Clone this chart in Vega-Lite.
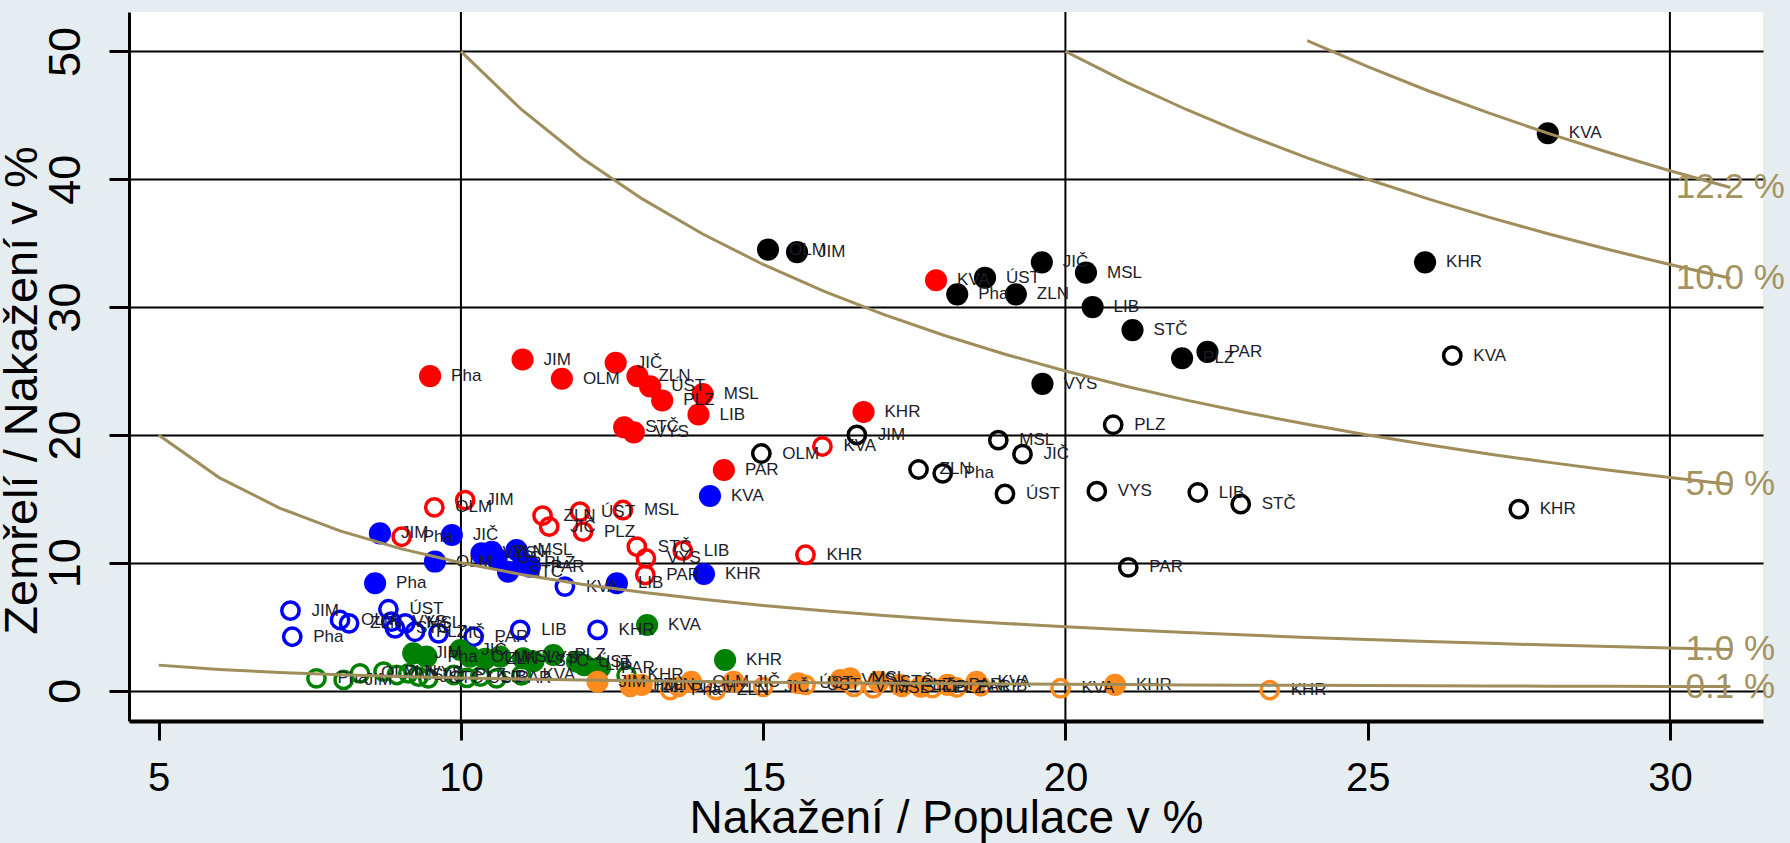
{
  "$schema": "https://vega.github.io/schema/vega-lite/v6.json",
  "width": 1634,
  "height": 709,
  "autosize": {"type": "none"},
  "padding": {"left": 129, "top": 12, "right": 27, "bottom": 122},
  "background": "#e6edf0",
  "config": {"view": {"fill": "white", "stroke": null}, "font": "Liberation Sans"},
  "datasets": {
    "pts": [
      {"g": "black", "f": "filled", "r": "OLM", "x": 15.08, "y": 34.5},
      {"g": "black", "f": "filled", "r": "JIM", "x": 15.56, "y": 34.3},
      {"g": "black", "f": "filled", "r": "Pha", "x": 18.21, "y": 31.0},
      {"g": "black", "f": "filled", "r": "ÚST", "x": 18.67, "y": 32.3},
      {"g": "black", "f": "filled", "r": "JIČ", "x": 19.61, "y": 33.5},
      {"g": "black", "f": "filled", "r": "ZLN", "x": 19.18, "y": 31.0},
      {"g": "black", "f": "filled", "r": "MSL", "x": 20.34, "y": 32.7},
      {"g": "black", "f": "filled", "r": "LIB", "x": 20.45, "y": 30.0},
      {"g": "black", "f": "filled", "r": "STČ", "x": 21.11, "y": 28.2},
      {"g": "black", "f": "filled", "r": "PLZ", "x": 21.93, "y": 26.0},
      {"g": "black", "f": "filled", "r": "PAR", "x": 22.35, "y": 26.5},
      {"g": "black", "f": "filled", "r": "VYS", "x": 19.62, "y": 24.0},
      {"g": "black", "f": "filled", "r": "KHR", "x": 25.95, "y": 33.5},
      {"g": "black", "f": "filled", "r": "KVA", "x": 27.98, "y": 43.6},
      {"g": "black", "f": "hollow", "r": "OLM", "x": 14.97, "y": 18.55},
      {"g": "black", "f": "hollow", "r": "JIM", "x": 16.55, "y": 20.0},
      {"g": "black", "f": "hollow", "r": "ZLN", "x": 17.57, "y": 17.3},
      {"g": "black", "f": "hollow", "r": "Pha", "x": 17.97, "y": 17.0},
      {"g": "black", "f": "hollow", "r": "MSL", "x": 18.89, "y": 19.6},
      {"g": "black", "f": "hollow", "r": "JIČ", "x": 19.29, "y": 18.5},
      {"g": "black", "f": "hollow", "r": "ÚST", "x": 19.0, "y": 15.4},
      {"g": "black", "f": "hollow", "r": "VYS", "x": 20.52, "y": 15.6},
      {"g": "black", "f": "hollow", "r": "PLZ", "x": 20.79, "y": 20.8},
      {"g": "black", "f": "hollow", "r": "LIB", "x": 22.19, "y": 15.5},
      {"g": "black", "f": "hollow", "r": "STČ", "x": 22.9, "y": 14.6},
      {"g": "black", "f": "hollow", "r": "PAR", "x": 21.04, "y": 9.64},
      {"g": "black", "f": "hollow", "r": "KVA", "x": 26.4, "y": 26.2},
      {"g": "black", "f": "hollow", "r": "KHR", "x": 27.5, "y": 14.2},
      {"g": "red", "f": "filled", "r": "Pha", "x": 9.49, "y": 24.6},
      {"g": "red", "f": "filled", "r": "JIM", "x": 11.02, "y": 25.9},
      {"g": "red", "f": "filled", "r": "OLM", "x": 11.67, "y": 24.4},
      {"g": "red", "f": "filled", "r": "JIČ", "x": 12.56, "y": 25.65},
      {"g": "red", "f": "filled", "r": "ZLN", "x": 12.92, "y": 24.6},
      {"g": "red", "f": "filled", "r": "ÚST", "x": 13.13, "y": 23.8},
      {"g": "red", "f": "filled", "r": "PLZ", "x": 13.33, "y": 22.7},
      {"g": "red", "f": "filled", "r": "MSL", "x": 14.0, "y": 23.2},
      {"g": "red", "f": "filled", "r": "LIB", "x": 13.93, "y": 21.6},
      {"g": "red", "f": "filled", "r": "STČ", "x": 12.7, "y": 20.6},
      {"g": "red", "f": "filled", "r": "VYS", "x": 12.86, "y": 20.2},
      {"g": "red", "f": "filled", "r": "KVA", "x": 17.86, "y": 32.1},
      {"g": "red", "f": "filled", "r": "KHR", "x": 16.66, "y": 21.8},
      {"g": "red", "f": "filled", "r": "PAR", "x": 14.35, "y": 17.26},
      {"g": "red", "f": "hollow", "r": "Pha", "x": 9.02, "y": 12.04},
      {"g": "red", "f": "hollow", "r": "OLM", "x": 9.56, "y": 14.34},
      {"g": "red", "f": "hollow", "r": "JIM", "x": 10.07, "y": 14.9},
      {"g": "red", "f": "hollow", "r": "ZLN", "x": 11.35, "y": 13.69},
      {"g": "red", "f": "hollow", "r": "JIČ", "x": 11.46, "y": 12.83},
      {"g": "red", "f": "hollow", "r": "ÚST", "x": 11.97, "y": 14.0},
      {"g": "red", "f": "hollow", "r": "PLZ", "x": 12.02, "y": 12.44},
      {"g": "red", "f": "hollow", "r": "MSL", "x": 12.68, "y": 14.13},
      {"g": "red", "f": "hollow", "r": "STČ", "x": 12.91, "y": 11.26},
      {"g": "red", "f": "hollow", "r": "VYS", "x": 13.06, "y": 10.35},
      {"g": "red", "f": "hollow", "r": "PAR", "x": 13.05, "y": 9.05},
      {"g": "red", "f": "hollow", "r": "LIB", "x": 13.67, "y": 10.95},
      {"g": "red", "f": "hollow", "r": "KHR", "x": 15.7, "y": 10.63},
      {"g": "red", "f": "hollow", "r": "KVA", "x": 15.98, "y": 19.1},
      {"g": "blue", "f": "filled", "r": "JIM", "x": 8.66, "y": 12.3},
      {"g": "blue", "f": "filled", "r": "JIČ", "x": 9.85, "y": 12.18},
      {"g": "blue", "f": "filled", "r": "OLM", "x": 9.57, "y": 10.1},
      {"g": "blue", "f": "filled", "r": "Pha", "x": 8.58, "y": 8.4},
      {"g": "blue", "f": "filled", "r": "VYS", "x": 10.34, "y": 10.74},
      {"g": "blue", "f": "filled", "r": "ZLN", "x": 10.51, "y": 10.87},
      {"g": "blue", "f": "filled", "r": "ÚST", "x": 10.59, "y": 10.35},
      {"g": "blue", "f": "filled", "r": "MSL", "x": 10.92, "y": 11.0},
      {"g": "blue", "f": "filled", "r": "STČ", "x": 10.78, "y": 9.3},
      {"g": "blue", "f": "filled", "r": "PLZ", "x": 11.03, "y": 9.96},
      {"g": "blue", "f": "filled", "r": "PAR", "x": 11.14, "y": 9.7},
      {"g": "blue", "f": "filled", "r": "KVA", "x": 14.12, "y": 15.23},
      {"g": "blue", "f": "filled", "r": "LIB", "x": 12.58, "y": 8.4},
      {"g": "blue", "f": "filled", "r": "KHR", "x": 14.02, "y": 9.13},
      {"g": "blue", "f": "hollow", "r": "JIM", "x": 7.18, "y": 6.26},
      {"g": "blue", "f": "hollow", "r": "Pha", "x": 7.21, "y": 4.22},
      {"g": "blue", "f": "hollow", "r": "OLM", "x": 8.0, "y": 5.53},
      {"g": "blue", "f": "hollow", "r": "ZLN", "x": 8.15, "y": 5.27},
      {"g": "blue", "f": "hollow", "r": "ÚST", "x": 8.8, "y": 6.37},
      {"g": "blue", "f": "hollow", "r": "VYS", "x": 8.85, "y": 5.4},
      {"g": "blue", "f": "hollow", "r": "STČ", "x": 8.91, "y": 4.88},
      {"g": "blue", "f": "hollow", "r": "MSL", "x": 9.08, "y": 5.27},
      {"g": "blue", "f": "hollow", "r": "PLZ", "x": 9.24, "y": 4.61},
      {"g": "blue", "f": "hollow", "r": "JIČ", "x": 9.63, "y": 4.49},
      {"g": "blue", "f": "hollow", "r": "PAR", "x": 10.21, "y": 4.22},
      {"g": "blue", "f": "hollow", "r": "LIB", "x": 10.98, "y": 4.75},
      {"g": "blue", "f": "hollow", "r": "KHR", "x": 12.26, "y": 4.75},
      {"g": "blue", "f": "hollow", "r": "KVA", "x": 11.72, "y": 8.14},
      {"g": "green", "f": "filled", "r": "JIM", "x": 9.21, "y": 2.92},
      {"g": "green", "f": "filled", "r": "Pha", "x": 9.43, "y": 2.66},
      {"g": "green", "f": "filled", "r": "JIČ", "x": 9.99, "y": 3.18},
      {"g": "green", "f": "filled", "r": "OLM", "x": 10.15, "y": 2.66},
      {"g": "green", "f": "filled", "r": "ZLN", "x": 10.4, "y": 2.5},
      {"g": "green", "f": "filled", "r": "MSL", "x": 10.65, "y": 2.66},
      {"g": "green", "f": "filled", "r": "VYS", "x": 11.03, "y": 2.53},
      {"g": "green", "f": "filled", "r": "STČ", "x": 11.2, "y": 2.3},
      {"g": "green", "f": "filled", "r": "PLZ", "x": 11.53, "y": 2.79},
      {"g": "green", "f": "filled", "r": "ÚST", "x": 11.92, "y": 2.27},
      {"g": "green", "f": "filled", "r": "LIB", "x": 12.04, "y": 2.0},
      {"g": "green", "f": "filled", "r": "PAR", "x": 12.3, "y": 1.8},
      {"g": "green", "f": "filled", "r": "KVA", "x": 13.08, "y": 5.14},
      {"g": "green", "f": "filled", "r": "KHR", "x": 14.37, "y": 2.4},
      {"g": "green", "f": "hollow", "r": "Pha", "x": 7.61, "y": 0.97},
      {"g": "green", "f": "hollow", "r": "JIM", "x": 8.06, "y": 0.84},
      {"g": "green", "f": "hollow", "r": "OLM", "x": 8.33, "y": 1.36},
      {"g": "green", "f": "hollow", "r": "ZLN", "x": 8.72, "y": 1.49},
      {"g": "green", "f": "hollow", "r": "MSL", "x": 8.94, "y": 1.23},
      {"g": "green", "f": "hollow", "r": "VYS", "x": 9.13, "y": 1.36},
      {"g": "green", "f": "hollow", "r": "JIČ", "x": 9.3, "y": 1.1},
      {"g": "green", "f": "hollow", "r": "STČ", "x": 9.46, "y": 0.97},
      {"g": "green", "f": "hollow", "r": "PLZ", "x": 9.88, "y": 1.23},
      {"g": "green", "f": "hollow", "r": "ÚST", "x": 10.1, "y": 1.0},
      {"g": "green", "f": "hollow", "r": "LIB", "x": 10.32, "y": 1.1},
      {"g": "green", "f": "hollow", "r": "PAR", "x": 10.59, "y": 0.97},
      {"g": "green", "f": "hollow", "r": "KVA", "x": 11.0, "y": 1.2},
      {"g": "green", "f": "hollow", "r": "KHR", "x": 12.74, "y": 1.2},
      {"g": "orange", "f": "filled", "r": "JIM", "x": 12.26, "y": 0.7},
      {"g": "orange", "f": "filled", "r": "Pha", "x": 12.83, "y": 0.45},
      {"g": "orange", "f": "filled", "r": "ZLN", "x": 12.99, "y": 0.45},
      {"g": "orange", "f": "filled", "r": "OLM", "x": 13.81, "y": 0.7},
      {"g": "orange", "f": "filled", "r": "JIČ", "x": 14.51, "y": 0.7},
      {"g": "orange", "f": "filled", "r": "ÚST", "x": 15.58, "y": 0.58},
      {"g": "orange", "f": "filled", "r": "VYS", "x": 16.28, "y": 0.84},
      {"g": "orange", "f": "filled", "r": "MSL", "x": 16.44, "y": 0.97},
      {"g": "orange", "f": "filled", "r": "STČ", "x": 16.91, "y": 0.7},
      {"g": "orange", "f": "filled", "r": "PLZ", "x": 17.26, "y": 0.45},
      {"g": "orange", "f": "filled", "r": "LIB", "x": 17.61, "y": 0.32},
      {"g": "orange", "f": "filled", "r": "PAR", "x": 18.05, "y": 0.45},
      {"g": "orange", "f": "filled", "r": "KVA", "x": 18.53, "y": 0.7},
      {"g": "orange", "f": "filled", "r": "KHR", "x": 20.82, "y": 0.45},
      {"g": "orange", "f": "hollow", "r": "JIM", "x": 12.8, "y": 0.3},
      {"g": "orange", "f": "hollow", "r": "Pha", "x": 13.46, "y": 0.05},
      {"g": "orange", "f": "hollow", "r": "OLM", "x": 13.6, "y": 0.3},
      {"g": "orange", "f": "hollow", "r": "ZLN", "x": 14.22, "y": 0.05},
      {"g": "orange", "f": "hollow", "r": "JIČ", "x": 15.0, "y": 0.3},
      {"g": "orange", "f": "hollow", "r": "ÚST", "x": 15.7, "y": 0.45},
      {"g": "orange", "f": "hollow", "r": "VYS", "x": 16.5, "y": 0.3},
      {"g": "orange", "f": "hollow", "r": "MSL", "x": 16.82, "y": 0.19},
      {"g": "orange", "f": "hollow", "r": "STČ", "x": 17.3, "y": 0.3},
      {"g": "orange", "f": "hollow", "r": "PLZ", "x": 17.8, "y": 0.2},
      {"g": "orange", "f": "hollow", "r": "PAR", "x": 18.2, "y": 0.25},
      {"g": "orange", "f": "hollow", "r": "LIB", "x": 18.6, "y": 0.35},
      {"g": "orange", "f": "hollow", "r": "KVA", "x": 19.92, "y": 0.19},
      {"g": "orange", "f": "hollow", "r": "KHR", "x": 23.38, "y": 0.05}
    ],
    "curves": [
      {"c": "0.1 %", "x": 5, "y": 2}, {"c": "0.1 %", "x": 6, "y": 1.667}, {"c": "0.1 %", "x": 7, "y": 1.429}, {"c": "0.1 %", "x": 8, "y": 1.25}, {"c": "0.1 %", "x": 9, "y": 1.111}, {"c": "0.1 %", "x": 10, "y": 1}, {"c": "0.1 %", "x": 11, "y": 0.909}, {"c": "0.1 %", "x": 12, "y": 0.833}, {"c": "0.1 %", "x": 13, "y": 0.769}, {"c": "0.1 %", "x": 14, "y": 0.714}, {"c": "0.1 %", "x": 15, "y": 0.667}, {"c": "0.1 %", "x": 16, "y": 0.625}, {"c": "0.1 %", "x": 17, "y": 0.588}, {"c": "0.1 %", "x": 18, "y": 0.556}, {"c": "0.1 %", "x": 19, "y": 0.526}, {"c": "0.1 %", "x": 20, "y": 0.5}, {"c": "0.1 %", "x": 21, "y": 0.476}, {"c": "0.1 %", "x": 22, "y": 0.455}, {"c": "0.1 %", "x": 23, "y": 0.435}, {"c": "0.1 %", "x": 24, "y": 0.417}, {"c": "0.1 %", "x": 25, "y": 0.4}, {"c": "0.1 %", "x": 26, "y": 0.385}, {"c": "0.1 %", "x": 27, "y": 0.37}, {"c": "0.1 %", "x": 28, "y": 0.357}, {"c": "0.1 %", "x": 29, "y": 0.345}, {"c": "0.1 %", "x": 30, "y": 0.333}, {"c": "0.1 %", "x": 31, "y": 0.323},
      {"c": "1.0 %", "x": 5, "y": 20}, {"c": "1.0 %", "x": 6, "y": 16.667}, {"c": "1.0 %", "x": 7, "y": 14.286}, {"c": "1.0 %", "x": 8, "y": 12.5}, {"c": "1.0 %", "x": 9, "y": 11.111}, {"c": "1.0 %", "x": 10, "y": 10}, {"c": "1.0 %", "x": 11, "y": 9.091}, {"c": "1.0 %", "x": 12, "y": 8.333}, {"c": "1.0 %", "x": 13, "y": 7.692}, {"c": "1.0 %", "x": 14, "y": 7.143}, {"c": "1.0 %", "x": 15, "y": 6.667}, {"c": "1.0 %", "x": 16, "y": 6.25}, {"c": "1.0 %", "x": 17, "y": 5.882}, {"c": "1.0 %", "x": 18, "y": 5.556}, {"c": "1.0 %", "x": 19, "y": 5.263}, {"c": "1.0 %", "x": 20, "y": 5}, {"c": "1.0 %", "x": 21, "y": 4.762}, {"c": "1.0 %", "x": 22, "y": 4.545}, {"c": "1.0 %", "x": 23, "y": 4.348}, {"c": "1.0 %", "x": 24, "y": 4.167}, {"c": "1.0 %", "x": 25, "y": 4}, {"c": "1.0 %", "x": 26, "y": 3.846}, {"c": "1.0 %", "x": 27, "y": 3.704}, {"c": "1.0 %", "x": 28, "y": 3.571}, {"c": "1.0 %", "x": 29, "y": 3.448}, {"c": "1.0 %", "x": 30, "y": 3.333}, {"c": "1.0 %", "x": 31, "y": 3.226},
      {"c": "5.0 %", "x": 10, "y": 50}, {"c": "5.0 %", "x": 11, "y": 45.455}, {"c": "5.0 %", "x": 12, "y": 41.667}, {"c": "5.0 %", "x": 13, "y": 38.462}, {"c": "5.0 %", "x": 14, "y": 35.714}, {"c": "5.0 %", "x": 15, "y": 33.333}, {"c": "5.0 %", "x": 16, "y": 31.25}, {"c": "5.0 %", "x": 17, "y": 29.412}, {"c": "5.0 %", "x": 18, "y": 27.778}, {"c": "5.0 %", "x": 19, "y": 26.316}, {"c": "5.0 %", "x": 20, "y": 25}, {"c": "5.0 %", "x": 21, "y": 23.81}, {"c": "5.0 %", "x": 22, "y": 22.727}, {"c": "5.0 %", "x": 23, "y": 21.739}, {"c": "5.0 %", "x": 24, "y": 20.833}, {"c": "5.0 %", "x": 25, "y": 20}, {"c": "5.0 %", "x": 26, "y": 19.231}, {"c": "5.0 %", "x": 27, "y": 18.519}, {"c": "5.0 %", "x": 28, "y": 17.857}, {"c": "5.0 %", "x": 29, "y": 17.241}, {"c": "5.0 %", "x": 30, "y": 16.667}, {"c": "5.0 %", "x": 31, "y": 16.129},
      {"c": "10.0 %", "x": 20, "y": 50}, {"c": "10.0 %", "x": 21, "y": 47.619}, {"c": "10.0 %", "x": 22, "y": 45.455}, {"c": "10.0 %", "x": 23, "y": 43.478}, {"c": "10.0 %", "x": 24, "y": 41.667}, {"c": "10.0 %", "x": 25, "y": 40}, {"c": "10.0 %", "x": 26, "y": 38.462}, {"c": "10.0 %", "x": 27, "y": 37.037}, {"c": "10.0 %", "x": 28, "y": 35.714}, {"c": "10.0 %", "x": 29, "y": 34.483}, {"c": "10.0 %", "x": 30, "y": 33.333}, {"c": "10.0 %", "x": 31, "y": 32.258},
      {"c": "12.2 %", "x": 24, "y": 50.833}, {"c": "12.2 %", "x": 25, "y": 48.8}, {"c": "12.2 %", "x": 26, "y": 46.923}, {"c": "12.2 %", "x": 27, "y": 45.185}, {"c": "12.2 %", "x": 28, "y": 43.571}, {"c": "12.2 %", "x": 29, "y": 42.069}, {"c": "12.2 %", "x": 30, "y": 40.667}, {"c": "12.2 %", "x": 31, "y": 39.355}
    ],
    "clabels": [
      {"c": "0.1 %", "x": 31, "y": 0.323},
      {"c": "1.0 %", "x": 31, "y": 3.226},
      {"c": "5.0 %", "x": 31, "y": 16.129},
      {"c": "10.0 %", "x": 31, "y": 32.258},
      {"c": "12.2 %", "x": 31, "y": 39.355}
    ],
    "xgrid": [{"v": 10}, {"v": 20}, {"v": 30}]
  },
  "layer": [
    {
      "data": {"name": "xgrid"},
      "mark": {"type": "rule", "color": "black", "strokeWidth": 2},
      "encoding": {
        "x": {
          "field": "v", "type": "quantitative",
          "scale": {"domain": [4.509, 31.54], "nice": false, "zero": false},
          "axis": {
            "orient": "bottom", "values": [5, 10, 15, 20, 25, 30], "format": "d", "grid": false,
            "domain": true, "domainColor": "black", "domainWidth": 4,
            "ticks": true, "tickColor": "black", "tickWidth": 3, "tickSize": 19,
            "labelFontSize": 40, "labelColor": "black", "labelBaseline": "alphabetic", "labelPadding": 50, "labelAngle": 0,
            "title": "Nakažení / Populace v %", "titleFontSize": 46, "titleFontWeight": "normal", "titleColor": "black",
            "titleBaseline": "alphabetic", "titleY": 111
          }
        }
      }
    },
    {
      "data": {"name": "pts"},
      "transform": [{"filter": "datum.f == 'hollow'"}],
      "mark": {"type": "point", "shape": "circle", "filled": false, "size": 300, "strokeWidth": 3.5, "opacity": 1},
      "encoding": {
        "x": {"field": "x", "type": "quantitative", "scale": {"domain": [4.509, 31.54], "nice": false, "zero": false}},
        "y": {
          "field": "y", "type": "quantitative",
          "scale": {"domain": [-2.37, 53.08], "nice": false, "zero": false},
          "axis": {
            "orient": "left", "values": [0, 10, 20, 30, 40, 50], "format": "d",
            "grid": true, "gridColor": "black", "gridWidth": 2, "gridOpacity": 1,
            "domain": true, "domainColor": "black", "domainWidth": 3,
            "ticks": true, "tickColor": "black", "tickWidth": 3, "tickSize": 20,
            "labelFontSize": 45, "labelColor": "black", "labelAngle": 270, "labelAlign": "center", "labelBaseline": "alphabetic", "labelPadding": 30,
            "title": "Zemřelí / Nakažení v %", "titleFontSize": 47, "titleFontWeight": "normal", "titleColor": "black",
            "titleAngle": 270, "titleAlign": "center", "titleBaseline": "middle", "titleX": -107, "titleY": 378
          }
        },
        "stroke": {"field": "g", "type": "nominal", "legend": null,
          "scale": {"domain": ["black", "red", "blue", "green", "orange"], "range": ["#000000", "#ff0000", "#0000ff", "#008000", "#ff8a1e"]}}
      }
    },
    {
      "data": {"name": "pts"},
      "transform": [{"filter": "datum.f == 'filled'"}],
      "mark": {"type": "circle", "size": 490, "opacity": 1},
      "encoding": {
        "x": {"field": "x", "type": "quantitative", "scale": {"domain": [4.509, 31.54], "nice": false, "zero": false}},
        "y": {"field": "y", "type": "quantitative", "scale": {"domain": [-2.37, 53.08], "nice": false, "zero": false}},
        "fill": {"field": "g", "type": "nominal", "legend": null,
          "scale": {"domain": ["black", "red", "blue", "green", "orange"], "range": ["#000000", "#ff0000", "#0000ff", "#008000", "#ff8a1e"]}}
      }
    },
    {
      "data": {"name": "pts"},
      "mark": {"type": "text", "align": "left", "baseline": "middle", "dx": 21, "fontSize": 17, "color": "#1c1c2a"},
      "encoding": {
        "x": {"field": "x", "type": "quantitative"},
        "y": {"field": "y", "type": "quantitative"},
        "text": {"field": "r"}
      }
    },
    {
      "data": {"name": "curves"},
      "mark": {"type": "line", "color": "#9f8d5b", "strokeWidth": 3},
      "encoding": {
        "x": {"field": "x", "type": "quantitative"},
        "y": {"field": "y", "type": "quantitative"},
        "detail": {"field": "c"}
      }
    },
    {
      "data": {"name": "clabels"},
      "mark": {"type": "text", "align": "center", "baseline": "middle", "fontSize": 35, "color": "#a49260"},
      "encoding": {
        "x": {"field": "x", "type": "quantitative"},
        "y": {"field": "y", "type": "quantitative"},
        "text": {"field": "c"}
      }
    }
  ]
}
